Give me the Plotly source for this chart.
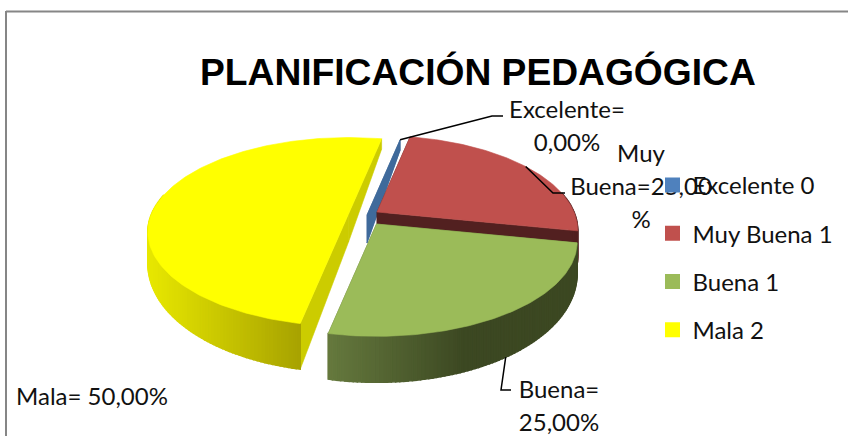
import math
import plotly.graph_objects as go

# --- data -----------------------------------------------------------------
categories = ["Excelente", "Muy Buena", "Buena", "Mala"]
values = [0, 1, 1, 2]
title_text = "PLANIFICACIÓN PEDAGÓGICA"
legend_labels = ["Excelente 0", "Muy Buena 1", "Buena 1", "Mala 2"]

# --- styles ---------------------------------------------------------------
TOP = ["#4F81BD", "#C0504D", "#9BBB59", "#FFFF00"]
WALL = ["#3F6A9B", "#522020", "#5F7238", "#CCCC00"]
SIDE_L = [(63, 106, 155), (82, 32, 32), (102, 122, 62), (232, 232, 0)]
SIDE_R = [(63, 106, 155), (82, 32, 32), (60, 72, 34), (168, 163, 0)]
SIDE_SPAN = [1.0, 1.0, 0.55, 1.0]
TXT = "Lato"
TXT_SIZE = 24
TXT_COL = "#111111"

# --- projection of the tilted pie ----------------------------------------
START_DEG = 11.5
R, RQ, P = 197.0, 91.0, 0.19
# per-slice centre on screen (explosion), drawing order follows
CENTRES = [(367, 215), (377, 212), (376.5, 224), (348.5, 214)]
ORDER = [0, 1, 3, 2]


def uv(deg):
    a = math.radians(deg)
    return math.sin(a), -math.cos(a)


def top_pt(i, deg):
    u, v = uv(deg)
    w = 1 - P * v
    return CENTRES[i][0] + R * u / w, CENTRES[i][1] + RQ * v / w


def drop(v):
    return 28 + 18 * v


def low_pt(i, deg):
    x, y = top_pt(i, deg)
    return x, y + drop(uv(deg)[1])


fig = go.Figure()


def poly(pts, color, lw=0.6):
    fig.add_trace(go.Scatter(
        x=[p[0] for p in pts] + [pts[0][0]],
        y=[p[1] for p in pts] + [pts[0][1]],
        mode="lines", fill="toself", fillcolor=color,
        line=dict(color=color, width=lw),
        hoverinfo="skip", showlegend=False))


total = sum(values)
spans = []
acc = START_DEG
for val in values:
    spans.append((acc, acc + 360.0 * val / total))
    acc += 360.0 * val / total

for i in ORDER:
    a0, a1 = spans[i]
    cx, cy = CENTRES[i]
    # radial walls
    for a in (a0, a1):
        poly([top_pt(i, a), (cx, cy), (cx, cy + drop(0)), low_pt(i, a)], WALL[i])
    if a1 > a0:
        n = int(a1 - a0)
        steps = [a0 + (a1 - a0) * k / n for k in range(n + 1)]
        # outer side, shaded along its visible stretch
        vis = [s for s in steps if uv(s)[1] >= -0.2]
        xs = [top_pt(i, s)[0] for s in vis]
        lo, hi = min(xs), max(xs)
        if i == 3:
            hi = top_pt(i, a0)[0]
        for s0, s1 in zip(steps[:-1], steps[1:]):
            if uv(s0)[1] < -0.2 and uv(s1)[1] < -0.2:
                continue
            t = min(1.0, (top_pt(i, s0)[0] - lo) / ((hi - lo) * SIDE_SPAN[i]))
            c = [round(SIDE_L[i][k] + (SIDE_R[i][k] - SIDE_L[i][k]) * t) for k in range(3)]
            col = f"rgb({c[0]},{c[1]},{c[2]})"
            poly([top_pt(i, s0), top_pt(i, s1), low_pt(i, s1), low_pt(i, s0)], col, lw=1.5)
        # top face
        poly([CENTRES[i]] + [top_pt(i, s) for s in steps], TOP[i])

# legend entries
for lab, col in zip(legend_labels, TOP):
    fig.add_trace(go.Scatter(
        x=[None], y=[None], mode="markers", name=lab, legendgroup=lab,
        marker=dict(symbol="square", size=15, color=col)))

# leader lines start on the slice rims
mid = lambda k: (spans[k][0] + spans[k][1]) / 2
ex = top_pt(0, spans[0][0])
mb = top_pt(1, mid(1))
bu = low_pt(2, mid(2))
leaders = [
    [ex, (492, 116), (503, 116)],
    [mb, (553, 193), (565, 193)],
    [bu, (501, 390), (511, 390)],
]
for pts in leaders:
    fig.add_trace(go.Scatter(
        x=[p[0] for p in pts], y=[p[1] for p in pts], mode="lines",
        line=dict(color="#000000", width=1.5), hoverinfo="skip", showlegend=False))

# data labels, one text per line because of the wide line pitch;
# drawn as text traces so the legend keys sit on top of them, as in the reference
label_lines = [
    ("Excelente=", 567, 112), ("0,00%", 567, 145),
    ("Muy", 641, 156), ("Buena=25,00", 641, 189), ("%", 641, 222),
    ("Buena=", 559, 392), ("25,00%", 559, 425),
    ("Mala= 50,00%", 92, 399),
]
fig.add_trace(go.Scatter(
    x=[l[1] for l in label_lines], y=[l[2] for l in label_lines],
    text=[l[0] for l in label_lines], mode="text", textposition="middle center",
    textfont=dict(family=TXT, size=TXT_SIZE, color=TXT_COL),
    hoverinfo="skip", showlegend=False, cliponaxis=False))

annos = [dict(x=478, y=72, text=f"<b>{title_text}</b>", showarrow=False,
              xanchor="center", yanchor="middle",
              font=dict(family="Liberation Sans", size=37.2, color="#000000"))]

fig.update_layout(
    width=848, height=436, margin=dict(l=0, r=0, t=0, b=0),
    paper_bgcolor="white", plot_bgcolor="white",
    xaxis=dict(range=[0, 848], visible=False, fixedrange=True),
    yaxis=dict(range=[436, 0], visible=False, fixedrange=True),
    annotations=annos,
    shapes=[dict(type="line", x0=6, x1=6, y0=11, y1=436, line=dict(color="#868686", width=2)),
            dict(type="line", x0=6, x1=848, y0=11.5, y1=11.5, line=dict(color="#868686", width=2))],
    legend=dict(x=652.5 / 848, y=1 - 163 / 436, xanchor="left", yanchor="top",
                font=dict(family=TXT, size=TXT_SIZE, color=TXT_COL),
                tracegroupgap=14, bgcolor="rgba(0,0,0,0)", itemsizing="trace"),
)
fig.write_html("out.html", config={"displayModeBar": False},
               post_script="document.body.style.margin='0';document.documentElement.style.overflow='hidden';")
